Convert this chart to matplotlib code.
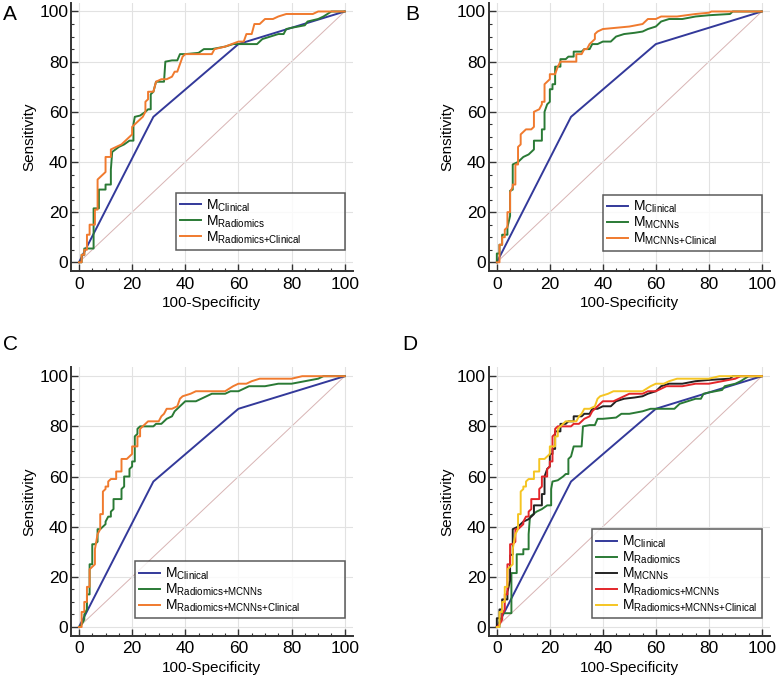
import matplotlib
matplotlib.use('Agg')
import matplotlib.pyplot as plt
from matplotlib.ticker import MultipleLocator

plt.rcParams['font.family'] = ['Liberation Sans', 'DejaVu Sans']
plt.rcParams['mathtext.default'] = 'regular'

# ROC curve vertices (100-Specificity, Sensitivity)
clinical_x = [0, 28, 60, 100]
clinical_y = [0, 58, 87, 100]

radiomics_x = [0, 1, 1, 2, 2, 3, 5.5, 5.5, 7.5, 7.5, 10, 10, 12, 12, 12.5, 15, 17, 19, 20.5, 20.5,
               21, 23, 25, 26, 27, 27, 28, 29, 32, 32.5, 35, 37, 38, 40, 45, 47, 50, 55, 58, 60, 63, 67,
               69, 72, 75, 77, 78, 80, 85, 86, 90, 92, 95, 100]
radiomics_y = [0, 0, 3, 3, 5.5, 5.5, 5.5, 21.5, 21.5, 29, 29, 31, 31, 37, 44, 46, 47, 48.5, 48.5, 55,
               58, 58.5, 60, 61, 61, 67, 68, 72, 72, 80, 80.5, 80.5, 83, 83, 83.5, 85, 85, 86, 87, 87, 87, 87,
               89, 90, 91, 91, 93, 93.5, 94.5, 96, 97, 98, 100, 100]

rad_clin_x = [0, 1, 1, 2, 2, 3, 3, 4, 4, 6, 6, 7, 7, 8, 9, 10, 10, 12, 12, 14, 16, 18, 20, 20, 22, 23,
              24, 25, 25, 26, 26, 28, 29, 31, 33, 35, 36, 37, 38, 39, 40, 45, 50, 51, 55, 60, 62, 63, 65,
              66, 68, 70, 73, 75, 78, 88, 90, 100]
rad_clin_y = [0, 0, 3, 3, 5, 5, 11, 11, 15, 15, 21, 21, 33, 34, 35, 36, 42, 42, 45, 46, 47, 49, 51, 54,
              56, 57, 58, 60, 64, 65, 68, 68, 72, 73, 73, 74, 76, 76, 79, 82, 83, 83, 83, 85, 86, 88, 88,
              91, 91, 95, 95, 97, 97, 98, 99, 99, 100, 100]

mcnns_x = [0, 0, 1, 1, 2, 2, 4, 4, 5, 5, 6, 6, 7, 8, 9, 10, 12, 13, 14, 14, 17, 17, 18, 18, 19, 20, 20,
           21, 21, 22, 22, 24, 24, 26, 27, 29, 29, 32, 33, 35, 36, 38, 40, 43, 45, 48, 52, 55, 57, 60,
           62, 65, 70, 75, 80, 88, 89, 100]
mcnns_y = [0, 3.5, 3.5, 7, 7, 11, 11, 14, 18.5, 28.5, 29, 39, 39.5, 40, 41, 42, 43, 44, 45, 48.5, 48.5,
           53, 53, 60, 63, 64, 69, 69, 71, 71, 78, 78, 81, 81, 82, 82, 84, 84, 85, 85, 87, 87, 88, 88,
           90, 91, 91.5, 92, 93, 94, 96, 97, 97, 98, 98.5, 99, 100, 100]

mcnns_clin_x = [0, 1, 1, 2, 2, 3, 3, 4, 4, 5, 5, 6, 6, 7, 7, 8, 8, 9, 9, 10, 11, 13, 14, 14, 16, 17, 17,
                18, 18, 19, 20, 20, 22, 23, 24, 30, 30, 32, 33, 34, 35, 37, 37, 38, 40, 45, 50, 55, 56,
                57, 60, 62, 68, 75, 80, 81, 100]
mcnns_clin_y = [0, 0, 7, 7, 10, 10, 13, 14, 20, 20, 28, 30, 31, 31, 39, 39, 46, 47, 51, 52, 53, 53, 54,
                60, 61, 63, 64, 64, 71, 72, 73, 75, 75, 78, 80, 80, 83, 83, 85, 85, 87, 89, 91, 92, 93,
                93.5, 94, 95, 96, 97, 97, 98, 98, 99, 99.5, 100, 100]

rad_mcnns_x = [0, 1, 2, 2, 3, 3, 4, 4, 5, 5, 6, 7, 7, 8, 9, 10, 10, 11, 12, 12, 13, 13, 16, 16, 17, 17,
               19, 19, 20, 20, 21, 21, 22, 22, 23, 28, 29, 31, 32, 33, 35, 36, 37, 38, 39, 40, 44, 46,
               48, 50, 55, 57, 60, 62, 64, 70, 75, 80, 85, 90, 92, 100]
rad_mcnns_y = [0, 1, 3, 5, 7, 13, 13, 25, 25, 33, 33, 34, 39, 39, 40, 41, 42, 44, 44, 46, 47, 51, 51,
               55, 56, 60, 60, 63, 64, 66, 66, 76, 77, 79, 80, 80, 81, 81, 82, 83, 84, 86, 87, 88, 89,
               90, 90, 91, 92, 93, 93, 94, 94, 95, 96, 96, 97, 97, 98, 99, 100, 100]

rad_mcnns_clin_x = [0, 1, 1, 2, 2, 3, 3, 4, 4, 5, 6, 6, 7, 8, 8, 9, 9, 10, 10, 11, 11, 12, 14, 14, 16,
                    16, 18, 19, 20, 20, 22, 22, 23, 23, 24, 25, 26, 30, 31, 32, 33, 35, 37, 38, 39, 42,
                    44, 50, 55, 58, 60, 63, 65, 68, 80, 84, 100]
rad_mcnns_clin_y = [0, 0, 6, 6, 10, 10, 16, 16, 23, 24, 25, 31, 37, 39, 45, 45, 54, 55, 56, 56, 58,
                    59, 59, 62, 62, 67, 67, 68, 69, 72, 72, 76, 76, 79, 80, 81, 82, 82, 84, 85, 87, 87,
                    88, 91, 92, 93, 94, 94, 94, 96, 97, 97, 98, 99, 99, 100, 100]

BLUE = '#33399a'
GREEN = '#2a7a35'
ORANGE = '#f07a2e'
BLACK = '#222222'
RED = '#e3262a'
YELLOW = '#f5c523'

panels = [
    ('A', [(clinical_x, clinical_y, BLUE, 'M$_{Clinical}$'),
           (radiomics_x, radiomics_y, GREEN, 'M$_{Radiomics}$'),
           (rad_clin_x, rad_clin_y, ORANGE, 'M$_{Radiomics{+}Clinical}$')], (36.6, 5.0, 63.4)),
    ('B', [(clinical_x, clinical_y, BLUE, 'M$_{Clinical}$'),
           (mcnns_x, mcnns_y, GREEN, 'M$_{MCNNs}$'),
           (mcnns_clin_x, mcnns_clin_y, ORANGE, 'M$_{MCNNs{+}Clinical}$')], (40.0, 4.4, 60.0)),
    ('C', [(clinical_x, clinical_y, BLUE, 'M$_{Clinical}$'),
           (rad_mcnns_x, rad_mcnns_y, GREEN, 'M$_{Radiomics{+}MCNNs}$'),
           (rad_mcnns_clin_x, rad_mcnns_clin_y, ORANGE, 'M$_{Radiomics{+}MCNNs{+}Clinical}$')],
     (21.0, 3.6, 79.0)),
    ('D', [(clinical_x, clinical_y, BLUE, 'M$_{Clinical}$'),
           (radiomics_x, radiomics_y, GREEN, 'M$_{Radiomics}$'),
           (mcnns_x, mcnns_y, BLACK, 'M$_{MCNNs}$'),
           (rad_mcnns_x, rad_mcnns_y, RED, 'M$_{Radiomics{+}MCNNs}$'),
           (rad_mcnns_clin_x, rad_mcnns_clin_y, YELLOW, 'M$_{Radiomics{+}MCNNs{+}Clinical}$')],
     (36.0, 3.6, 64.0)),
]

# axes rectangles in figure fraction
positions = [
    [0.0915, 0.599, 0.363, 0.397],
    [0.630, 0.599, 0.362, 0.397],
    [0.0915, 0.0595, 0.363, 0.397],
    [0.630, 0.0595, 0.362, 0.397],
]
letter_pos = [(0.004, 0.979), (0.522, 0.979), (0.004, 0.490), (0.518, 0.490)]

fig = plt.figure(figsize=(7.76, 6.76), dpi=100)

for (letter, curves, box), pos, lp in zip(panels, positions, letter_pos):
    ax = fig.add_axes(pos)
    ax.set_xlim(-3, 103)
    ax.set_ylim(-3.5, 103.5)
    ax.plot([0, 100], [0, 100], color='#d8b4b4', lw=0.7, zorder=1)
    for x, y, c, lab in curves:
        ax.plot(x, y, color=c, lw=1.4, label=lab, zorder=3)

    ax.xaxis.set_major_locator(MultipleLocator(20))
    ax.yaxis.set_major_locator(MultipleLocator(20))
    ax.xaxis.set_minor_locator(MultipleLocator(5))
    ax.yaxis.set_minor_locator(MultipleLocator(5))
    ax.grid(True, which='major', color='#e2e2e2', lw=0.8, zorder=0)
    ax.tick_params(which='major', direction='in', length=5, width=1, colors='#333333',
                   labelsize=12.5, labelcolor='black')
    ax.tick_params(which='minor', direction='in', length=2.5, width=0.8, colors='#333333')
    ax.tick_params(axis='x', which='major', pad=4)
    ax.tick_params(axis='y', which='major', pad=2)
    for s in ['top', 'right']:
        ax.spines[s].set_visible(False)
    for s in ['left', 'bottom']:
        ax.spines[s].set_color('#333333')
        ax.spines[s].set_linewidth(1.4)
    ax.set_xlabel('100-Specificity', fontsize=11, labelpad=3)
    ax.set_ylabel('Sensitivity', fontsize=11, labelpad=2)

    leg = ax.legend(loc='lower left', bbox_to_anchor=(box[0], box[1], box[2], 10),
                    bbox_transform=ax.transData, mode='expand',
                    fontsize=10, frameon=True, fancybox=False, handlelength=1.5,
                    handletextpad=0.35, labelspacing=-0.03, borderpad=0.3, borderaxespad=0)
    leg.get_frame().set_edgecolor('#333333')
    leg.get_frame().set_linewidth(1.1)
    leg.set_zorder(5)

    fig.text(lp[0], lp[1], letter, fontsize=15, ha='left', va='center')

plt.savefig('out.png', dpi=100)
